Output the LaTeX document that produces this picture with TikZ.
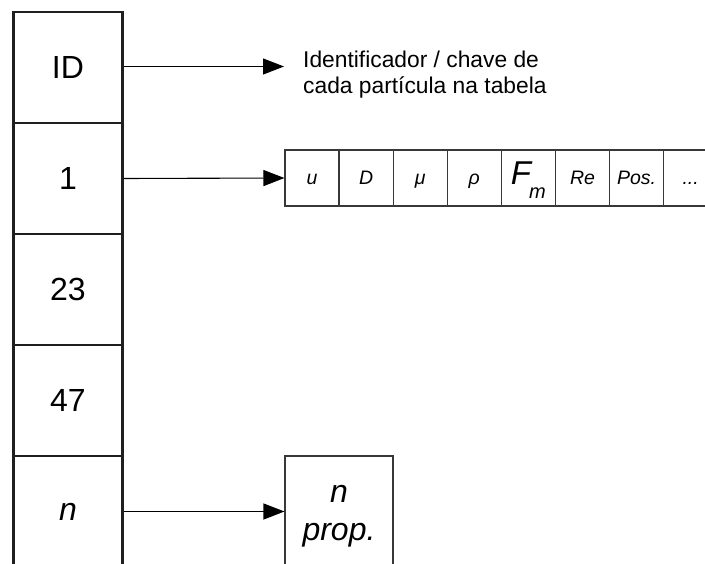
\documentclass[tikz,border=0pt]{standalone}
\usepackage{fontspec}
\setmainfont{Liberation Sans}
\usetikzlibrary{arrows.meta}
\begin{document}
\begin{tikzpicture}[x=1pt,y=-1pt,
  colbox/.style={draw=black!88, line width=2.4pt, minimum width=109pt, minimum height=111pt, inner sep=0pt, font=\fontsize{32}{36}\selectfont},
  cellbox/.style={draw=black!78, line width=1.1pt, minimum width=54pt, minimum height=56pt, inner sep=0pt, text height=29pt, text depth=15pt, font=\fontsize{19.5}{21}\selectfont\itshape},
  arr/.style={-{Triangle[length=21pt,width=16pt]}, line width=1.1pt, draw=black}
]
\clip (0,0) rectangle (705,564);
\fill[white] (0,0) rectangle (705,564);
% left column
\node[colbox] (rid) at (68,67.5) {ID};
\node[colbox] (r1) at (68,178.5) {1};
\node[colbox] (r23) at (68,289.5) {23};
\node[colbox] (r47) at (68,400.5) {47};
\node[colbox] (rn) at (68,511.5) {\itshape n};
% label
\coordinate (idend) at (284,66.5);
\node[anchor=north west, inner sep=0pt, align=left, font=\fontsize{22.8}{26}\selectfont] (lbl) at (303,50.5) {Identificador / chave de\\cada partícula na tabela};
% property cells
\node[cellbox] (c1) at (312,178) {u};
\node[cellbox] (c2) at (366.1,178) {D};
\node[cellbox] (c3) at (420.2,178) {μ};
\node[cellbox] (c4) at (474.3,178) {ρ};
\node[cellbox] (c5) at (528.4,178) {{\fontsize{33}{33}\selectfont F}\kern-2pt\raisebox{-14pt}{\fontsize{20}{20}\selectfont m}};
\node[cellbox] (c6) at (582.5,178) {Re};
\node[cellbox] (c7) at (636.6,178) {Pos.};
\node[cellbox] (c8) at (690.7,178) {...};
% n prop box
\node[draw=black!78, line width=1.1pt, minimum width=108pt, minimum height=111pt, inner sep=0pt] (np) at (339,511.5) {};
\node[inner sep=0pt, align=center, font=\fontsize{32}{38}\selectfont\itshape] (nptext) at ([yshift=-5pt]np.center) {n\\prop.};
% arrows
\draw[arr] (rid.east |- idend) -- (idend);
\draw[arr] (r1.east) -- (c1.west);
\draw[arr] (rn.east) -- (np.west);
\end{tikzpicture}
\end{document}
